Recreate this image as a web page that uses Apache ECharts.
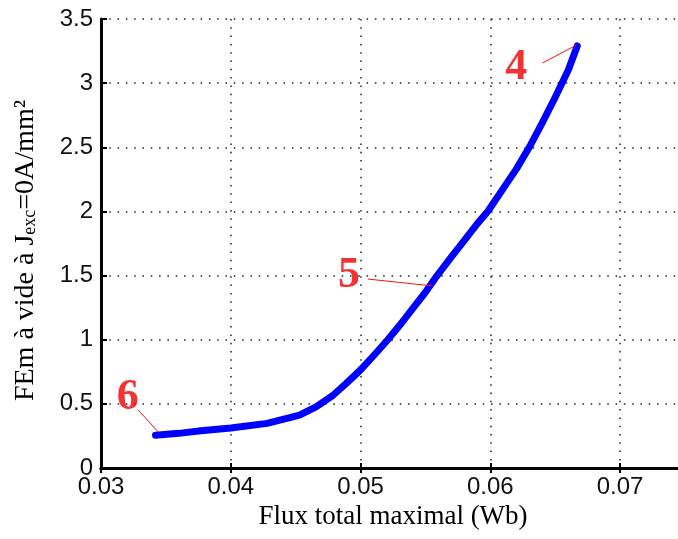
<!DOCTYPE html>
<html>
<head>
<meta charset="utf-8">
<script src="https://cdn.jsdelivr.net/npm/echarts@6/dist/echarts.min.js"></script>
<style>
html,body{margin:0;padding:0;background:#fff;}
#chart{width:678px;height:539px;}
</style>
</head>
<body>
<div id="chart"></div>
<script>
// Curve: flux (Wb) vs EMF at no load
const fluxValues = [0.0342,0.036,0.0377,0.040,0.0428,0.0453,0.0466,0.0479,0.0489,0.050,0.051,0.0521,0.053,0.054,0.055,0.0559,0.057,0.058,0.059,0.0598,0.061,0.062,0.063,0.064,0.065,0.066,0.0667];
const emfValues  = [0.255,0.27,0.29,0.312,0.348,0.413,0.478,0.569,0.66,0.765,0.875,1.0,1.11,1.24,1.37,1.5,1.645,1.775,1.905,2.0,2.18,2.33,2.5,2.69,2.89,3.1,3.29];

// Annotations (data coordinates)
const annoLabels   = ['4','5','6'];
const annoTextPos  = [[0.0620,3.118],[0.0491,1.50],[0.03206,0.546]];
const annoLineFrom = [[0.06402,3.157],[0.05056,1.473],[0.03287,0.452]];
const annoLineTo   = [[0.06664,3.297],[0.05556,1.419],[0.03441,0.281]];

const xTicks = {min:0.03, max:0.075, interval:0.01};
const yTicks = {min:0, max:3.5, interval:0.5};
const xTitle = 'Flux total maximal (Wb)';
const yTitleMain = 'FEm à vide à J';
const yTitleSub = 'exc';
const yTitleEnd = '=0A/mm²';

const chart = echarts.init(document.getElementById('chart'));
const curve = fluxValues.map((x,i)=>[x, emfValues[i]]);

const gridDash = [1.5, 6.8];
const series = [{
  type:'line', data: curve, showSymbol:false, smooth:false,
  lineStyle:{color:'#0000ff', width:7, cap:'round', join:'round'},
  z:3, silent:true
}];
annoLabels.forEach((lab,i)=>{
  series.push({
    type:'line', data:[annoLineFrom[i], annoLineTo[i]], showSymbol:false,
    lineStyle:{color:'#ff1010', width:1}, z:4, silent:true
  });
});
series.push({
  type:'scatter', symbolSize:0, z:5, silent:true,
  data: annoTextPos.map((p,i)=>({value:p, name:annoLabels[i]})),
  label:{show:true, position:'inside', formatter:p=>p.name,
    fontFamily:'Liberation Serif', fontWeight:'bold', fontSize:44, color:'#f00000'}
});

chart.setOption({
  animation:false,
  backgroundColor:'#fff',
  grid:{left:101, right:-7, top:19, bottom:71, containLabel:false, outerBoundsMode:'none'},
  xAxis:[{
    type:'value', min:xTicks.min, max:xTicks.max, interval:xTicks.interval,
    name:xTitle, nameLocation:'middle', nameGap:34,
    nameTextStyle:{fontFamily:'Liberation Serif', fontSize:27, color:'#000'},
    axisLine:{show:true, onZero:false, lineStyle:{color:'#000', width:3}},
    axisTick:{show:true, inside:true, length:5, lineStyle:{color:'#000', width:2}},
    axisLabel:{margin:7, fontFamily:'Liberation Sans', fontSize:24, color:'#111',
      formatter:v=>(Math.abs(v-0.075)<1e-9?'':String(+v.toFixed(3)))},
    splitLine:{show:true, lineStyle:{color:'#222', width:1.5, type:gridDash}}
  },{
    type:'value', position:'top', min:xTicks.min, max:xTicks.max, interval:xTicks.interval,
    axisLine:{show:true, lineStyle:{color:'#000', width:3}},
    axisTick:{show:true, inside:true, length:5, lineStyle:{color:'#000', width:2}},
    axisLabel:{show:false}, splitLine:{show:false}
  }],
  yAxis:[{
    type:'value', min:yTicks.min, max:yTicks.max, interval:yTicks.interval,
    name:'{a|'+yTitleMain+'}{s|'+yTitleSub+'}{a|'+yTitleEnd+'}',
    nameLocation:'middle', nameGap:62,
    nameTextStyle:{padding:[0,14,0,0], rich:{
      a:{fontFamily:'Liberation Serif', fontSize:28, color:'#000', lineHeight:27, verticalAlign:'top'},
      s:{fontFamily:'Liberation Serif', fontSize:18, color:'#000', lineHeight:18, padding:[21,0,0,0], verticalAlign:'bottom'}
    }},
    axisLine:{show:true, onZero:false, lineStyle:{color:'#000', width:3}},
    axisTick:{show:true, inside:true, length:6, lineStyle:{color:'#000', width:2}},
    axisLabel:{margin:8, fontFamily:'Liberation Sans', fontSize:24, color:'#111',
      formatter:v=>String(+v.toFixed(1))},
    splitLine:{show:true, lineStyle:{color:'#222', width:1.5, type:gridDash}}
  }],
  series: series
});
</script>
</body>
</html>
